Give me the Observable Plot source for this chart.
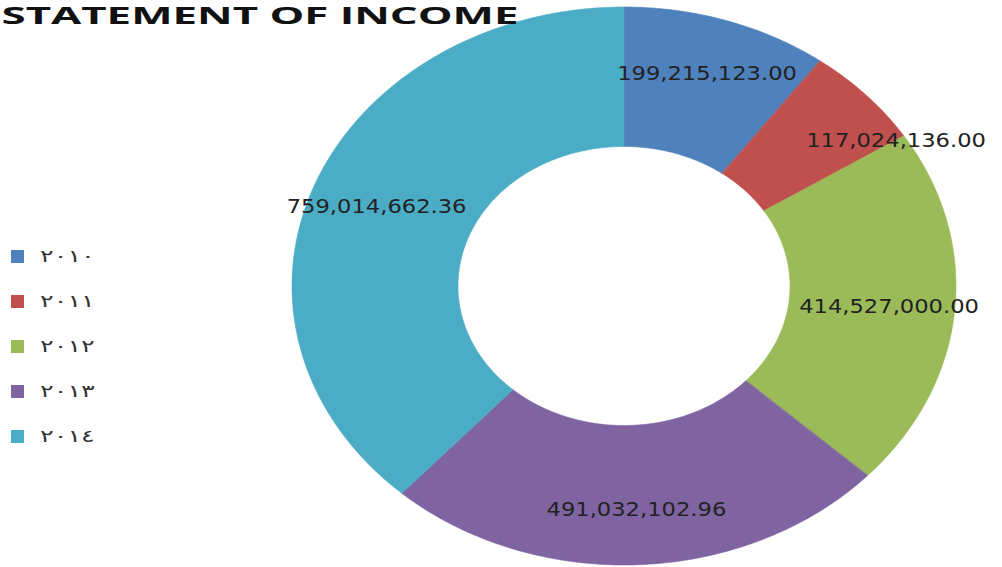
<!DOCTYPE html>
<html><head><meta charset="utf-8">
<script src="https://cdn.jsdelivr.net/npm/d3@7"></script>
<script src="https://cdn.jsdelivr.net/npm/@observablehq/plot@0.6"></script>
<style>
body{margin:0;background:#fff;}
#chart{position:relative;width:1002px;height:567px;overflow:hidden;background:#fff;}
#legend{position:absolute;left:11px;top:250px;}
</style></head><body><div id="chart"></div>
<script>
const title = "STATEMENT OF INCOME";
const years = ["٢٠١٠", "٢٠١١", "٢٠١٢", "٢٠١٣", "٢٠١٤"];
const values = [199215123.00, 117024136.00, 414527000.00, 491032102.96, 759014662.36];
const valueLabels = ["199,215,123.00", "117,024,136.00", "414,527,000.00", "491,032,102.96", "759,014,662.36"];
const colors = ["#4F81BD", "#C0504D", "#9BBB59", "#8064A2", "#4BACC6"];

const total = d3.sum(values);
const innerRatio = 0.5;
let cum = 0;
const slices = years.map((year, i) => {
  const a0 = cum / total * 2 * Math.PI;
  cum += values[i];
  const a1 = cum / total * 2 * Math.PI;
  return {year, a0, a1, label: valueLabels[i], frac: values[i] / total};
});
const ring = slices.flatMap(s => {
  const n = Math.max(2, Math.ceil((s.a1 - s.a0) / (2 * Math.PI) * 360));
  return d3.range(n + 1).map(k => {
    const a = s.a0 + (s.a1 - s.a0) * k / n;
    return {year: s.year, xo: Math.sin(a), yo: Math.cos(a), xi: innerRatio * Math.sin(a), yi: innerRatio * Math.cos(a)};
  });
});
const labels = slices.map(s => {
  const thin = s.frac < 0.08;
  const a = thin ? s.a1 : (s.a0 + s.a1) / 2;
  const r = thin ? 0.97 : 0.8;
  return {label: s.label, x: r * Math.sin(a), y: r * Math.cos(a)};
});

const plot = Plot.plot({
  width: 1002,
  height: 567,
  margin: 0,
  style: {background: "transparent", overflow: "visible"},
  x: {domain: [-1, 1], range: [292, 956], axis: null},
  y: {domain: [-1, 1], range: [565, 7], axis: null},
  color: {type: "ordinal", domain: years, range: colors},
  marks: [
    Plot.area(ring, {x1: "xo", y1: "yo", x2: "xi", y2: "yi", z: "year", fill: "year", stroke: "year", strokeWidth: 0.6}),
    Plot.text(labels, {x: "x", y: "y", text: "label", fontSize: 19, fill: "#222", fontFamily: "DejaVu Sans"}),
    Plot.text([title], {frameAnchor: "top-left", lineAnchor: "bottom", textAnchor: "start", dx: 1, dy: 23, fontSize: 23, fontWeight: "bold", fill: "#111", fontFamily: "Open Sans"})
  ]
});
const chart = document.getElementById("chart");
chart.appendChild(plot);

const legend = Plot.legend({color: {type: "ordinal", domain: years, range: colors}, swatchSize: 13});
legend.id = "legend";
legend.style.display = "flex";
legend.style.flexDirection = "column";
legend.style.alignItems = "flex-start";
legend.style.gap = "32px";
legend.style.fontFamily = "DejaVu Sans";
legend.style.fontSize = "17px";
legend.style.lineHeight = "13px";
legend.style.color = "#333";
legend.style.minHeight = "0";
legend.querySelectorAll("span").forEach(s => {
  s.style.margin = "0";
  s.style.height = "13px";
  Array.from(s.childNodes).filter(n => n.nodeType === 3 && n.textContent.trim()).forEach(n => {
    const w = document.createElement("span");
    w.textContent = n.textContent;
    w.style.display = "inline-block";
    w.style.transform = "scaleX(1.5)";
    w.style.transformOrigin = "left center";
    s.replaceChild(w, n);
  });
});
legend.querySelectorAll("svg").forEach(s => { s.style.marginRight = "16px"; });
chart.appendChild(legend);

const stretch = 332 / 279;
const texts = Array.from(plot.querySelectorAll("text"));
texts.forEach(t => {
  const isTitle = t.textContent === title;
  const len = t.getComputedTextLength();
  t.setAttribute("textLength", isTitle ? 517 : len * stretch);
  t.setAttribute("lengthAdjust", "spacingAndGlyphs");
});
</script></body></html>
